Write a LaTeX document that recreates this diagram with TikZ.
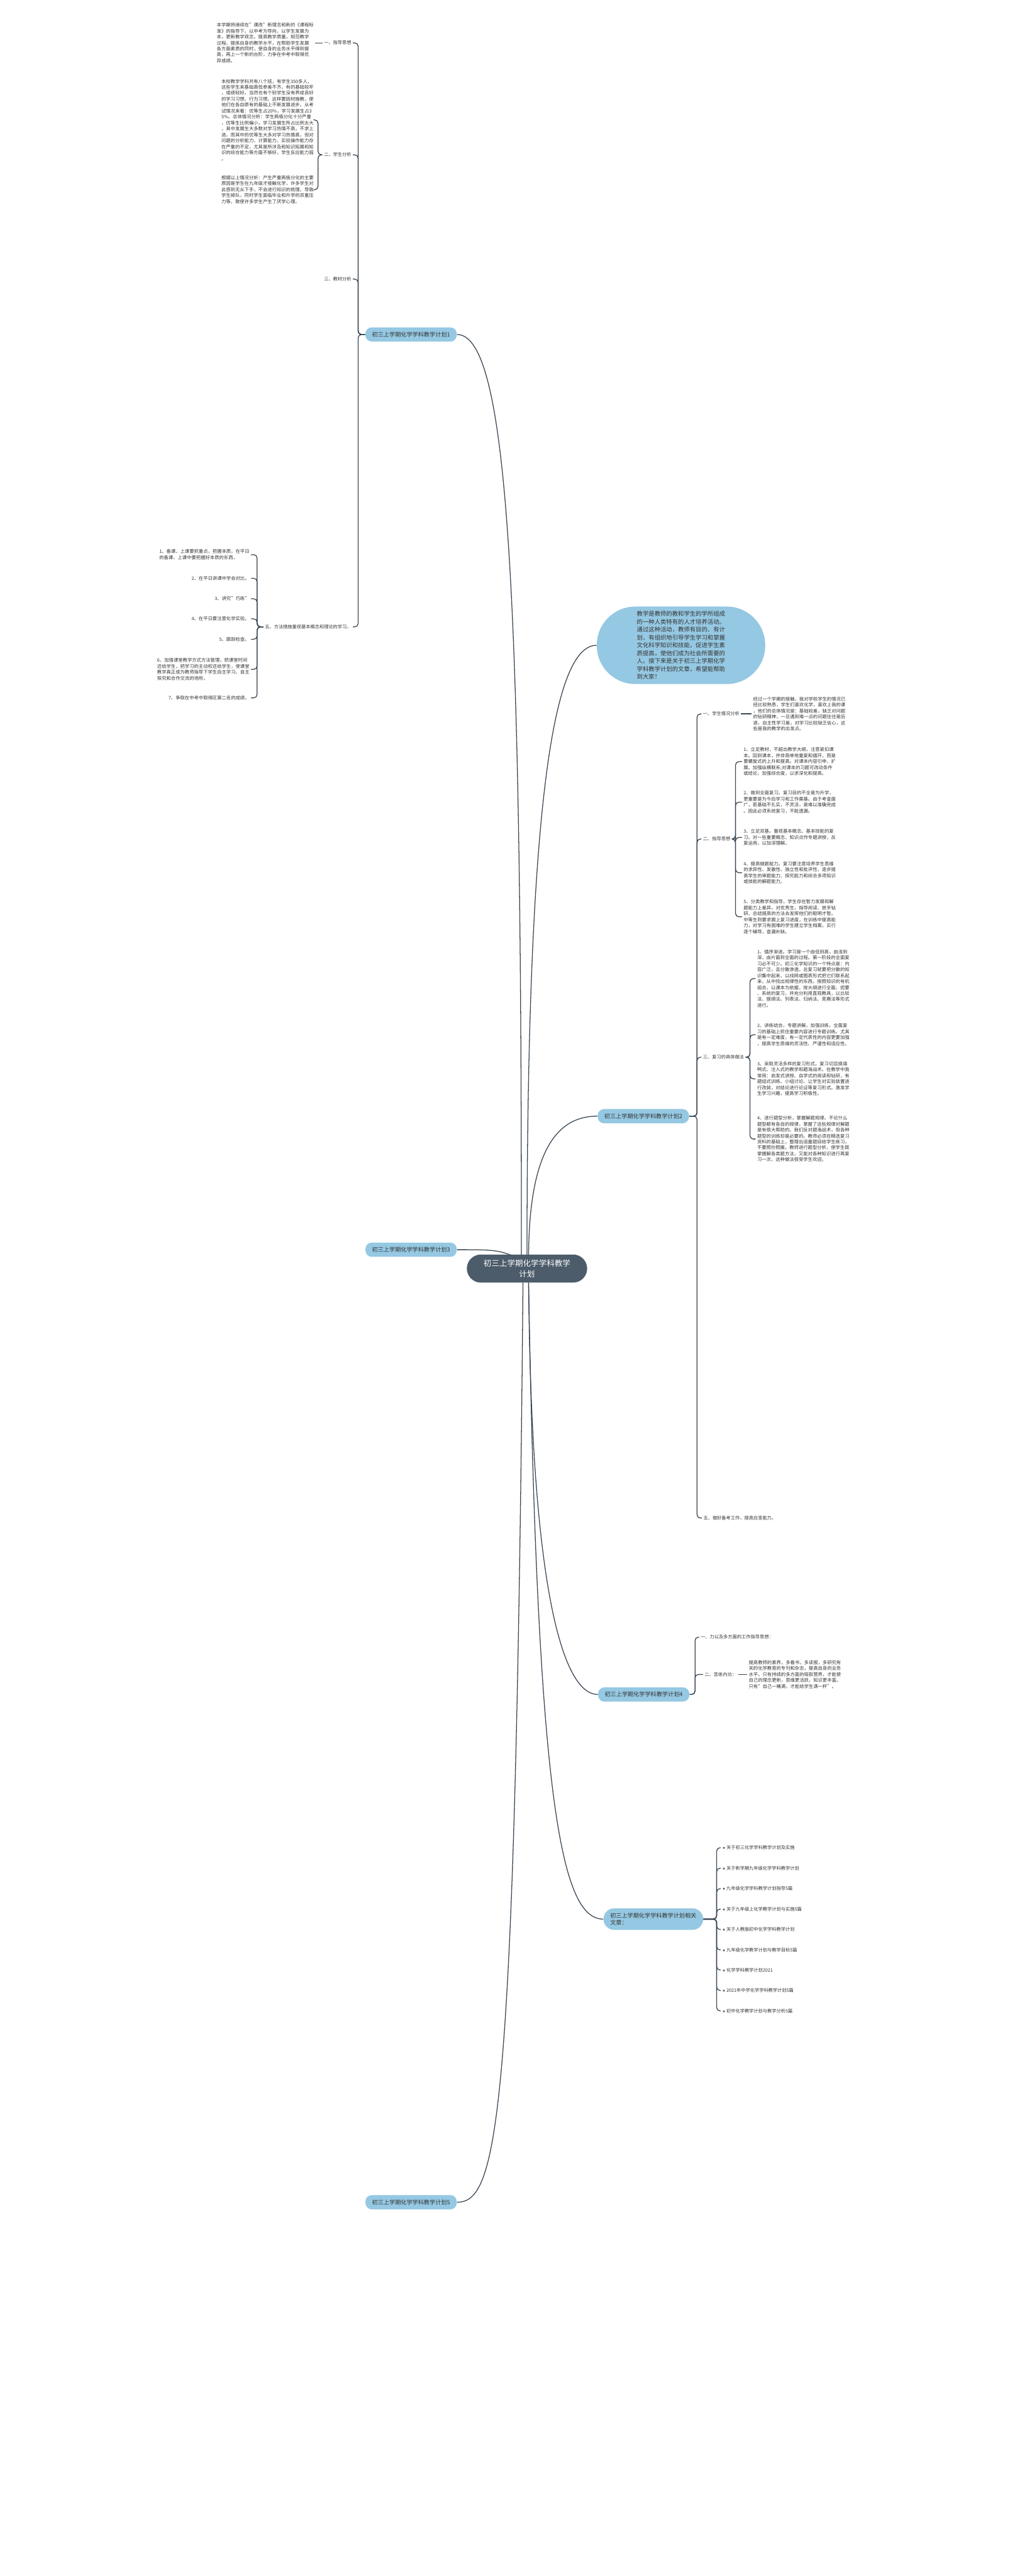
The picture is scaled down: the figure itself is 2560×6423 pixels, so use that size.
\documentclass[tikz,border=0pt]{standalone}
\usepackage{fontspec}
\setmainfont{Noto Sans CJK SC}
\newfontfamily\symfont{DejaVu Sans}
\definecolor{lineC}{HTML}{3A4652}
\definecolor{txtC}{HTML}{333333}
\definecolor{pillC}{HTML}{95C8E2}
\definecolor{centC}{HTML}{4C5C6B}
\tikzset{
  t/.style={font=\fontsize{3.45}{4.45}\selectfont, text=txtC, inner sep=1pt, align=left},
  lbl/.style={font=\fontsize{3.4}{4.4}\selectfont, text=txtC, inner sep=1pt},
  pill/.style={fill=pillC, rounded corners=4.8pt, font=\fontsize{4.3}{5.5}\selectfont, text=txtC, inner xsep=5pt, minimum height=9.6pt},
  cent/.style={fill=centC, rounded corners=10.5pt, font=\fontsize{5.9}{8.1}\selectfont, text=white, align=center, minimum width=90pt, minimum height=21pt},
  ln/.style={draw=lineC, line width=0.6pt, rounded corners=2.5pt},
  cv/.style={draw=lineC, line width=0.6pt},
}
\begin{document}
\begin{tikzpicture}[x=0.3pt,y=-0.3pt]
\useasboundingbox[fill=white] (0,0) rectangle (2560,6423);
% center
\node[cent] (C) at (1314,3163) {初三上学期化学学科教学\\计划};
% level-1 pills
\node[pill] (P1) at (1025,834) {初三上学期化学学科教学计划1};
\node[pill] (P3) at (1025,3116) {初三上学期化学学科教学计划3};
\node[pill] (P5) at (1025,5491) {初三上学期化学学科教学计划5};
\node[pill] (P2) at (1604,2783) {初三上学期化学学科教学计划2};
\node[pill] (P4) at (1605,4225) {初三上学期化学学科教学计划4};
\node[pill, align=left, rounded corners=8pt, minimum height=16pt] (PR) at (1629,4785) {初三上学期化学学科教学计划相关\\文章：};
\node[fill=pillC, rounded corners=28.8pt, font=\fontsize{4.4}{5.9}\selectfont, text=txtC, align=left, minimum width=126pt, minimum height=57.6pt] (IN) at (1698,1609) {教学是教师的教和学生的学所组成\\的一种人类特有的人才培养活动。\\通过这种活动，教师有目的、有计\\划、有组织地引导学生学习和掌握\\文化科学知识和技能，促进学生素\\质提高，使他们成为社会所需要的\\人。接下来是关于初三上学期化学\\学科教学计划的文章，希望能帮助\\到大家！};
% curves from center
\draw[cv] (P1.east) .. controls +(130,0) and (1300,1500) .. (1300,3128);
\draw[cv] (P3.east) .. controls +(80,0) and (1240,3116) .. (1275,3130);
\draw[cv] (1314,3128) .. controls (1314,2000) and (1380,1609) .. (IN.west);
\draw[cv] (1318,3128) .. controls (1320,2850) and (1400,2783) .. (P2.west);
\draw[cv] (1318,3198) .. controls (1325,4000) and (1410,4225) .. (P4.west);
\draw[cv] (1318,3198) .. controls (1340,4500) and (1400,4785) .. (PR.west);
\draw[cv] (1304,3198) .. controls (1285,5300) and (1240,5491) .. (P5.east);

% ===== plan 1 =====
\coordinate (b1) at (893,0);
\node[lbl, anchor=east] (p1a) at (880,107) {一、指导思想};
\node[lbl, anchor=east] (p1b) at (880,386) {二、学生分析};
\node[lbl, anchor=east] (p1c) at (880,696) {三、教材分析};
\node[lbl, anchor=east] (p1e) at (880,1563) {五、方法措施重视基本概念和理论的学习。};
\foreach \c in {p1a,p1b,p1c,p1e} \draw[ln] (P1.west) -| (b1 |- \c.east) -- (\c.east);

\node[t, anchor=east] (p1a1) at (786,107) {本学期将继续在"课改"新理念和新的《课程标\\准》的指导下，以中考为导向，以学生发展为\\本，更新教学观念，提高教学质量，规范教学\\过程。提炼自身的教学水平，在帮助学生发展\\各方面素质的同时，使自身的业务水平得到提\\高，再上一个新的台阶，力争在中考中取得优\\异成绩。};
\draw[ln] (p1a.west) -- (p1a1.east);

\coordinate (b1b) at (793,0);
\node[t, anchor=east] (p1b1) at (786,299) {本校教学学科共有八个班，有学生350多人，\\这些学生来基础高低参差不齐，有的基础较牢\\，成绩较好。当然也有个别学生没有养成良好\\的学习习惯、行为习惯。这样要因材施教，使\\他们在各自原有的基础上不断发展进步。从考\\试情况来看：优等生占20\%，学习发展生占3\\5\%。总体情况分析：学生两极分化十分严重\\，优等生比例偏小，学习发展生所占比例太大\\，其中发展生大多数对学习热情不高，不求上\\进。而其中的优等生大多对学习热情高，但对\\问题的分析能力、计算能力、实验操作能力存\\在严重的不足，尤其是所涉及和知识拓展和知\\识的综合能力等方面不够好，学生反应能力弱\\。};
\node[t, anchor=east] (p1b2) at (786,473) {根据以上情况分析：产生严重两极分化的主要\\原因是学生在九年级才接触化学，许多学生对\\此感到无从下手，不会进行知识的梳理，导致\\学生掉队，同时学生面临毕业和升学的双重压\\力等，致使许多学生产生了厌学心理。};
\foreach \c in {p1b1,p1b2} \draw[ln] (p1b.west) -| (b1b |- \c.east) -- (\c.east);

\coordinate (b1e) at (641,0);
\node[t, anchor=east] (p1e1) at (626,1383) {1、备课、上课要抓重点，把握本质。在平日\\的备课、上课中要把握好本质的东西，};
\node[t, anchor=east] (p1e2) at (626,1442) {2、在平日讲课中学会对比。};
\node[t, anchor=east] (p1e3) at (626,1493) {3、讲究"巧练"};
\node[t, anchor=east] (p1e4) at (626,1543) {4、在平日要注意化学实验。};
\node[t, anchor=east] (p1e5) at (626,1594) {5、跟踪检查。};
\node[t, anchor=east] (p1e6) at (626,1669) {6、加强课堂教学方式方法管理，把课堂时间\\还给学生，把学习的主动权还给学生，使课堂\\教学真正成为教师指导下学生自主学习、自主\\探究和合作交流的场所。};
\node[t, anchor=east] (p1e7) at (626,1740) {7、争取在中考中取得区第二名的成绩。};
\foreach \c in {p1e1,p1e2,p1e3,p1e4,p1e5,p1e6,p1e7} \draw[ln] (p1e.west) -| (b1e |- \c.east) -- (\c.east);

% ===== plan 2 =====
\coordinate (b2) at (1738,0);
\node[lbl, anchor=west] (p2a) at (1749,1780) {一、学生情况分析};
\node[lbl, anchor=west] (p2b) at (1749,2092) {二、指导思想};
\node[lbl, anchor=west] (p2c) at (1749,2636) {三、复习的具体做法};
\node[lbl, anchor=west] (p2e) at (1750,3785) {五、做好备考工作，提高应变能力。};
\foreach \c in {p2a,p2b,p2c,p2e} \draw[ln] (P2.east) -| (b2 |- \c.west) -- (\c.west);
\node[t, anchor=west] (p2a1) at (1874,1780) {经过一个学期的接触，我对学校学生的情况已\\经比较熟悉，学生们喜欢化学，喜欢上我的课\\，他们的总体情况是：基础较差，缺乏对问题\\的钻研精神，一旦遇到难一点的问题往往是后\\退，自主性学习差，对学习比较缺乏信心，这\\些是我的教学的出发点。};
\draw[ln] (p2a.east) -- (p2a1.west);

\coordinate (b2b) at (1834,0);
\node[t, anchor=west] (p2b1) at (1850,1899) {1、立足教材，不超出教学大纲，注意紧扣课\\本。回到课本，并非简单地重复和循环，而是\\要螺旋式的上升和提高。对课本内容引申、扩\\展。加强纵横联系;对课本的习题可改动条件\\或结论，加强综合度，以求深化和提高。};
\node[t, anchor=west] (p2b2) at (1850,2000) {2、做到全面复习。复习目的不全是为升学，\\更重要是为今后学习和工作奠基。由于考查面\\广，若基础不扎实，不灵活，是难以准确完成\\。因此必须系统复习，不能遗漏。};
\node[t, anchor=west] (p2b3) at (1850,2088) {3、立足双基。重视基本概念、基本技能的复\\习。对一些重要概念、知识点作专题讲授，反\\复运用，以加深理解。};
\node[t, anchor=west] (p2b4) at (1850,2176) {4、提高做题能力。复习要注意培养学生思维\\的求异性、发散性、独立性和批评性，逐步提\\高学生的审题能力、探究能力和综合多项知识\\或技能的解题能力。};
\node[t, anchor=west] (p2b5) at (1850,2286) {5、分类教学和指导。学生存在智力发展和解\\题能力上差异。对优秀生，指导阅读、放手钻\\研、总结提高的方法去发挥他们的聪明才智。\\中等生则要求跟上复习进度，在训练中提高能\\力，对学习有困难的学生建立学生档案，实行\\逐个辅导，查漏补缺。};
\foreach \c in {p2b1,p2b2,p2b3,p2b4,p2b5} \draw[ln] (p2b.east) -| (b2b |- \c.west) -- (\c.west);

\coordinate (b2c) at (1870,0);
\node[t, anchor=west] (p2c1) at (1884,2440) {1、循序渐进。学习是一个由低到高，由浅到\\深，由片面到全面的过程。第一阶段的全面复\\习必不可少。初三化学知识的一个特点是：内\\容广泛，且分散渗透。总复习就要把分散的知\\识集中起来，以线网或图表形式把它们联系起\\来，从中找出规律性的东西。按照知识的有机\\组合，以课本为依据，按大纲进行全面、扼要\\、系统的复习，并充分利用直观教具，以比较\\法、提纲法、列表法、归纳法、竞赛法等形式\\进行。};
\node[t, anchor=west] (p2c2) at (1884,2580) {2、讲练结合，专题讲解，加强训练。全面复\\习的基础上抓住重要内容进行专题训练。尤其\\是有一定难度，有一定代表性的内容更要加强\\，提高学生思维的灵活性、严谨性和适应性。};
\node[t, anchor=west] (p2c3) at (1884,2690) {3、采取灵活多样的复习形式。复习切忌搞填\\鸭式、注入式的教学和题海战术。在教学中我\\常用：启发式讲授、自学式的阅读和钻研，有\\题组式训练、小组讨论、让学生对实验装置进\\行改装，对结论进行论证等复习形式。激发学\\生学习兴趣，提高学习积极性。};
\node[t, anchor=west] (p2c4) at (1884,2840) {4、进行题型分析，掌握解题规律。不论什么\\题型都有各自的规律，掌握了这些规律对解题\\是有很大帮助的。我们反对题海战术，但各种\\题型的训练却是必要的。教师必须在精选复习\\资料的基础上，整理出适量题目给学生练习，\\不要照抄照搬。教师进行题型分析，使学生既\\掌握解各类题方法，又能对各种知识进行再复\\习一次，这种做法很受学生欢迎。};
\foreach \c in {p2c1,p2c2,p2c3,p2c4} \draw[ln] (p2c.east) -| (b2c |- \c.west) -- (\c.west);

% ===== plan 4 =====
\coordinate (b4) at (1733,0);
\node[lbl, anchor=west] (p4a) at (1743,4082) {一、力以及多方面的工作指导思想：};
\node[lbl, anchor=west] (p4b) at (1753,4175) {二、苦练内功：};
\foreach \c in {p4a,p4b} \draw[ln] (P4.east) -| (b4 |- \c.west) -- (\c.west);
\node[t, anchor=west] (p4b1) at (1863,4175) {提高教师的素养，多看书，多读报，多研究有\\关的化学教育的专刊和杂志，提高自身的业务\\水平。只有持续的多方面的吸取营养，才能使\\自己的理念更新，思维更活跃，知识更丰富。\\只有"自己一桶满，才能给学生满一杯"。};
\draw[ln] (p4b.east) -- (p4b1.west);

% ===== related =====
\coordinate (bR) at (1787,0);
\foreach \i/\y/\s in {1/4607/关于初三化学学科教学计划及实施, 2/4658/关于新学期九年级化学学科教学计划, 3/4709/九年级化学学科教学计划指导5篇, 4/4760/关于九年级上化学教学计划与实施5篇, 5/4811/关于人教版初中化学学科教学计划, 6/4862/九年级化学教学计划与教学目标5篇, 7/4912/化学学科教学计划2021, 8/4963/2021年中学化学学科教学计划5篇, 9/5014/初中化学教学计划与教学分析5篇} {
  \node[lbl, anchor=west] (r\i) at (1797,\y) {{\symfont\fontsize{2.6}{3}\selectfont ★} \s};
  \draw[ln] (PR.east) -| (bR |- r\i.west) -- (r\i.west);
}
\end{tikzpicture}
\end{document}
